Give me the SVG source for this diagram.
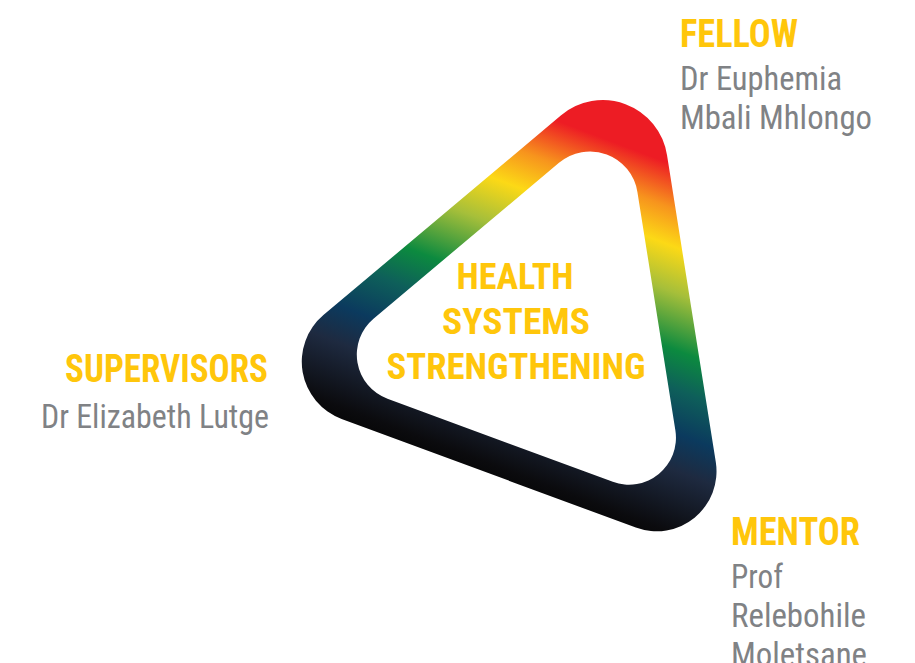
<svg xmlns="http://www.w3.org/2000/svg" width="915" height="663" viewBox="0 0 915 663">
  <style>
    .head { font-family: "Liberation Sans Narrow", "Roboto Condensed", "Liberation Sans", sans-serif; font-weight: bold; font-size: 38px; fill: #FFC60B; }
    .name { font-family: "Liberation Sans Narrow", "Roboto Condensed", "Liberation Sans", sans-serif; font-size: 34px; fill: #808285; }
    .core { font-family: "Liberation Sans Narrow", "Roboto Condensed", "Liberation Sans", sans-serif; font-weight: bold; font-size: 37px; fill: #FFC60B; text-anchor: middle; }
  </style>
  <defs>
    <linearGradient id="rainbow" gradientUnits="userSpaceOnUse" x1="635.2" y1="102.1" x2="489.6" y2="485.4">
      <stop offset="0" stop-color="#ED1C24"/>
      <stop offset="0.11" stop-color="#ED1C24"/>
      <stop offset="0.21" stop-color="#F7941D"/>
      <stop offset="0.296" stop-color="#FCD916"/>
      <stop offset="0.40" stop-color="#A6BF3A"/>
      <stop offset="0.53" stop-color="#0C8A3F"/>
      <stop offset="0.62" stop-color="#0E5F5A"/>
      <stop offset="0.72" stop-color="#0B3A5E"/>
      <stop offset="0.805" stop-color="#1E2A40"/>
      <stop offset="0.95" stop-color="#0B0B0E"/>
      <stop offset="1" stop-color="#050505"/>
    </linearGradient>
  </defs>

  <g id="triangle">
    <path fill="url(#rainbow)" fill-rule="evenodd" d="M 560.8 115.5 A 65 65 0 0 1 667.0 155.1 L 715.8 462.0 A 60 60 0 0 1 635.8 527.6 L 341.6 418.9 A 61 61 0 0 1 323.4 315.1 Z M 559.0 162.8 A 48 48 0 0 1 637.4 192.0 L 675.4 430.4 A 47 47 0 0 1 612.8 481.8 L 387.5 398.7 A 47 47 0 0 1 373.5 318.7 Z"/>
  </g>

  <g id="core">
    <text class="core" x="515" y="289" textLength="117" lengthAdjust="spacingAndGlyphs">HEALTH</text>
    <text class="core" x="516" y="334" textLength="148" lengthAdjust="spacingAndGlyphs">SYSTEMS</text>
    <text class="core" x="516" y="379" textLength="259" lengthAdjust="spacingAndGlyphs">STRENGTHENING</text>
  </g>

  <g id="fellow">
    <text class="head" x="680" y="47" textLength="118" lengthAdjust="spacingAndGlyphs">FELLOW</text>
    <text class="name" x="680" y="90" textLength="162" lengthAdjust="spacingAndGlyphs">Dr Euphemia</text>
    <text class="name" x="680" y="129" textLength="192" lengthAdjust="spacingAndGlyphs">Mbali Mhlongo</text>
  </g>

  <g id="supervisors">
    <text class="head" x="65" y="382" textLength="203" lengthAdjust="spacingAndGlyphs">SUPERVISORS</text>
    <text class="name" x="41" y="428" textLength="228" lengthAdjust="spacingAndGlyphs">Dr Elizabeth Lutge</text>
  </g>

  <g id="mentor">
    <text class="head" x="731" y="545" textLength="129" lengthAdjust="spacingAndGlyphs">MENTOR</text>
    <text class="name" x="731" y="588" textLength="52" lengthAdjust="spacingAndGlyphs">Prof</text>
    <text class="name" x="731" y="627" textLength="135" lengthAdjust="spacingAndGlyphs">Relebohile</text>
    <text class="name" x="731" y="666" textLength="136" lengthAdjust="spacingAndGlyphs">Moletsane</text>
  </g>
</svg>
